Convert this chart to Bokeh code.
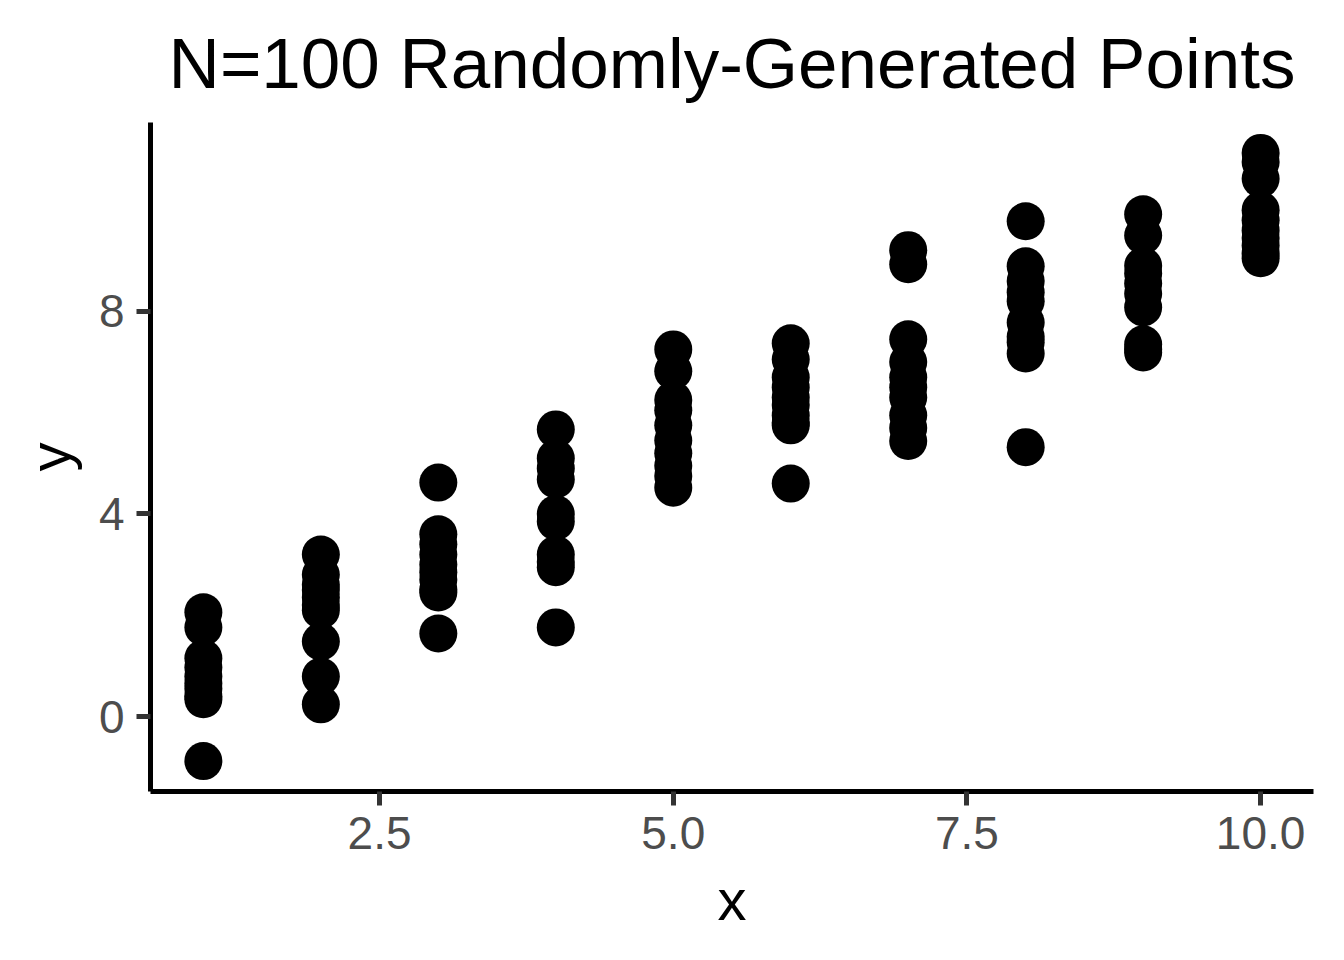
from bokeh.plotting import figure
from bokeh.models import Range1d, FixedTicker
from bokeh.embed import file_html
from bokeh.resources import INLINE

# Data (10 points at each x)
y_at_1 = [2.06, 1.76, 1.15, 0.97, 0.79, 0.65, 0.55, 0.40, 0.34, -0.88]
y_at_2 = [3.20, 2.80, 2.60, 2.50, 2.35, 2.20, 2.10, 1.48, 0.79, 0.24]
y_at_3 = [4.62, 3.60, 3.40, 3.20, 3.00, 2.85, 2.70, 2.51, 2.45, 1.64]
y_at_4 = [5.67, 5.10, 4.90, 4.68, 4.00, 3.85, 3.20, 3.05, 2.95, 1.76]
y_at_5 = [7.25, 6.82, 6.25, 6.05, 5.75, 5.45, 5.20, 4.95, 4.75, 4.52]
y_at_6 = [7.37, 7.05, 6.70, 6.50, 6.30, 6.15, 5.95, 5.80, 5.75, 4.60]
y_at_7 = [9.21, 8.93, 7.45, 7.00, 6.70, 6.50, 6.30, 5.95, 5.70, 5.44]
y_at_8 = [9.78, 8.89, 8.60, 8.38, 8.20, 7.78, 7.50, 7.39, 7.17, 5.32]
y_at_9 = [9.92, 9.50, 8.90, 8.75, 8.55, 8.35, 8.08, 7.35, 7.25, 7.19]
y_at_10 = [11.13, 10.95, 10.62, 10.00, 9.80, 9.60, 9.45, 9.30, 9.15, 9.05]
x_levels = [1, 2, 3, 4, 5, 6, 7, 8, 9, 10]
x_ticks = [2.5, 5.0, 7.5, 10.0]
x_tick_labels = ["2.5", "5.0", "7.5", "10.0"]
y_ticks = [0, 4, 8]
y_tick_labels = ["0", "4", "8"]
title_text = "N=100 Randomly-Generated Points"

groups = [y_at_1, y_at_2, y_at_3, y_at_4, y_at_5, y_at_6, y_at_7, y_at_8, y_at_9, y_at_10]
xs, ys = [], []
for xv, grp in zip(x_levels, groups):
    for yv in grp:
        xs.append(xv)
        ys.append(yv)

FONT = "Liberation Sans"

xmin, xmax = min(xs), max(xs)
ymin, ymax = min(ys), max(ys)
xpad = (xmax - xmin) * 0.05
ypad = (ymax - ymin) * 0.05

p = figure(
    output_backend="svg", toolbar_location=None,
    frame_width=1163, frame_height=669,
    min_border_left=150, min_border_right=15,
    min_border_top=122, min_border_bottom=153,
    x_range=Range1d(xmin - xpad, xmax + xpad),
    y_range=Range1d(ymin - ypad, ymax + ypad),
    title=title_text,
)
p.outline_line_color = None
p.background_fill_color = "white"
p.border_fill_color = "white"
p.xgrid.visible = False
p.ygrid.visible = False

p.title.text_font = FONT
p.title.text_font_size = "71px"
p.title.text_font_style = "normal"
p.title.text_color = "black"
p.title.align = "center"
p.title.text_line_height = 0.8
p.title.standoff = 40

p.scatter(xs, ys, size=38, fill_color="black", line_color=None)

for ax in (p.xaxis[0], p.yaxis[0]):
    ax.axis_line_color = "black"
    ax.axis_line_width = 5
    ax.major_tick_line_color = "#333333"
    ax.major_tick_line_width = 5
    ax.major_tick_out = 14
    ax.major_tick_in = 0
    ax.minor_tick_line_color = None
    ax.major_label_text_font = FONT
    ax.major_label_text_font_size = "46px"
    ax.major_label_text_color = "#4D4D4D"
    ax.axis_label_text_font = FONT
    ax.axis_label_text_font_size = "58px"
    ax.axis_label_text_font_style = "normal"
    ax.axis_label_text_color = "black"

p.xaxis.ticker = FixedTicker(ticks=x_ticks)
p.xaxis.major_label_overrides = {t: l for t, l in zip(x_ticks, x_tick_labels)}
p.yaxis.ticker = FixedTicker(ticks=y_ticks)
p.yaxis.major_label_overrides = {t: l for t, l in zip(y_ticks, y_tick_labels)}
p.xaxis.axis_label = "x"
p.yaxis.axis_label = "y"
p.xaxis.major_label_standoff = 11
p.yaxis.major_label_standoff = 12
p.xaxis.axis_label_standoff = 15
p.yaxis.axis_label_standoff = 14

open("out.html", "w").write(file_html(p, INLINE))
